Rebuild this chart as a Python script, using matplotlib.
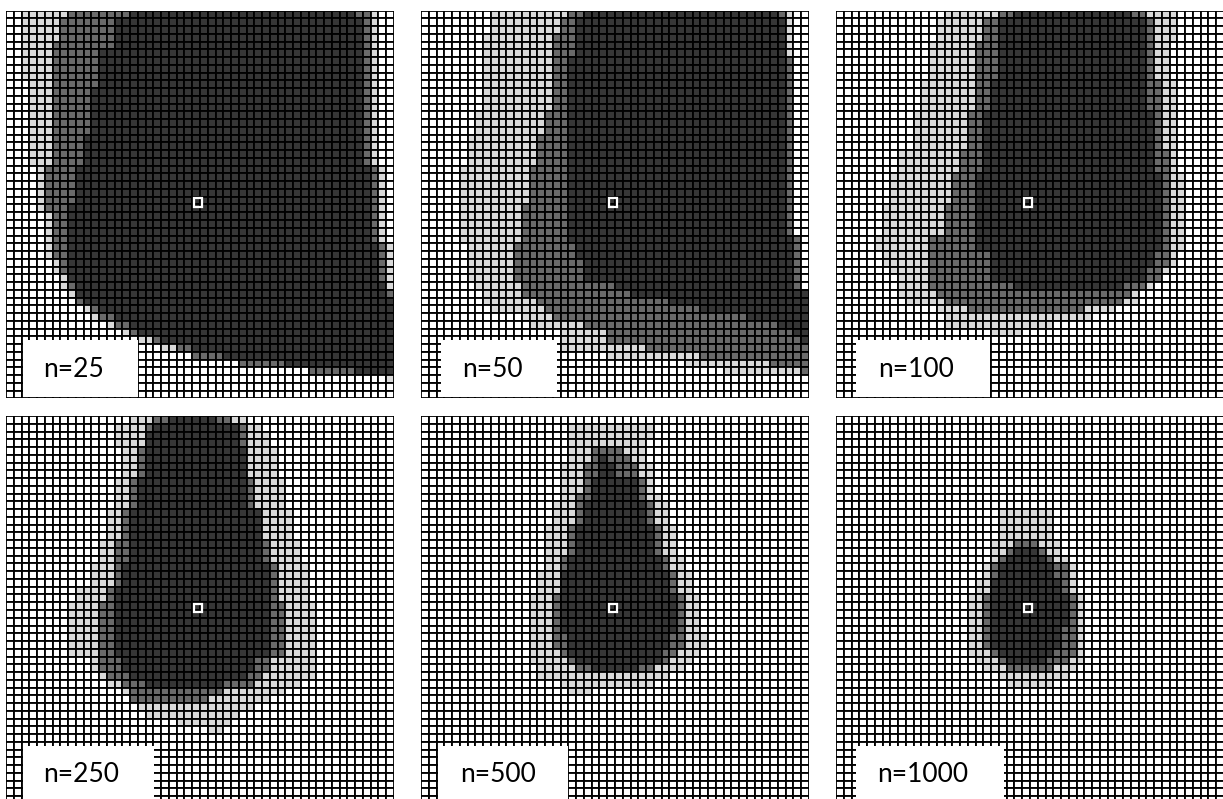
import numpy as np
import matplotlib
matplotlib.use('Agg')
import matplotlib.pyplot as plt
from matplotlib.colors import ListedColormap
from matplotlib.patches import Rectangle

# grid of 50 x 50 cells per panel
N = 50
labels = ['n=25', 'n=50', 'n=100', 'n=250', 'n=500', 'n=1000']
shades = ['#ffffff', '#d9d9d9', '#6a6a6a', '#363636']

# each level: (first row, left col, right col) runs, right col exclusive
p25_l1 = [(0, 2, 48), (9, 3, 48), (20, 4, 49), (26, 5, 49), (30, 5, 50), (32, 6, 50), (34, 7, 50),
          (36, 8, 50), (37, 9, 50), (38, 10, 50), (39, 11, 50), (40, 13, 50), (41, 15, 50), (42, 17, 50),
          (43, 20, 50), (44, 24, 50), (45, 30, 50), (46, 39, 50), (47, 49, 50), (48, 0, 0)]
p25_l2 = [(0, 8, 47), (1, 7, 47), (4, 6, 47), (20, 5, 48), (26, 6, 48), (30, 6, 49), (32, 7, 49),
          (34, 8, 49), (36, 9, 50), (38, 11, 50), (39, 12, 50), (40, 14, 50), (41, 16, 50), (42, 19, 50),
          (43, 22, 50), (44, 24, 50), (45, 30, 50), (46, 39, 50), (47, 0, 0)]
p25_l3 = [(0, 16, 45), (1, 14, 46), (5, 12, 46), (10, 11, 46), (16, 10, 46), (20, 9, 47), (25, 8, 47),
          (30, 8, 48), (35, 9, 49), (37, 10, 50), (38, 12, 50), (39, 14, 50), (40, 16, 50), (41, 17, 50),
          (42, 20, 50), (43, 24, 50), (44, 28, 50), (45, 36, 50), (46, 45, 50), (47, 0, 0)]

p50_l1 = [(0, 9, 48), (3, 8, 48), (13, 7, 48), (16, 6, 48), (20, 5, 48), (29, 5, 49), (30, 6, 49),
          (35, 7, 49), (36, 8, 50), (38, 9, 50), (39, 13, 50), (40, 14, 50), (41, 18, 50), (44, 24, 50),
          (45, 34, 50), (46, 39, 50), (47, 0, 0)]
p50_l2 = [(0, 19, 47), (1, 18, 47), (3, 17, 47), (6, 17, 48), (13, 16, 48), (16, 15, 48), (20, 14, 48),
          (25, 13, 48), (29, 13, 49), (30, 12, 49), (35, 13, 49), (36, 13, 50), (37, 15, 50), (38, 16, 50),
          (39, 17, 50), (40, 21, 50), (41, 24, 50), (43, 29, 50), (44, 36, 50), (45, 45, 50), (46, 49, 50),
          (47, 0, 0)]
p50_l3 = [(0, 21, 46), (1, 20, 47), (6, 19, 47), (29, 19, 48), (30, 20, 48), (32, 21, 48), (35, 25, 48),
          (36, 27, 50), (37, 32, 50), (38, 36, 50), (39, 42, 50), (40, 46, 50), (41, 48, 50), (42, 49, 50),
          (43, 0, 0)]

p100_l1 = [(0, 14, 44), (1, 13, 44), (4, 12, 43), (9, 11, 44), (13, 10, 44), (18, 8, 44), (21, 7, 45),
           (25, 6, 45), (29, 5, 45), (31, 6, 44), (33, 7, 43), (34, 8, 42), (35, 8, 41), (36, 8, 39),
           (37, 9, 39), (38, 13, 36), (39, 14, 33), (40, 14, 28), (41, 20, 24), (42, 0, 0)]
p100_l2 = [(0, 21, 40), (1, 19, 41), (4, 18, 41), (9, 18, 42), (13, 17, 42), (18, 16, 43), (21, 15, 43),
           (25, 14, 43), (29, 12, 43), (33, 12, 42), (35, 12, 40), (36, 13, 38), (37, 14, 37), (38, 17, 32),
           (39, 0, 0)]
p100_l3 = [(0, 23, 38), (1, 21, 40), (9, 20, 40), (13, 19, 41), (18, 19, 41), (21, 18, 42), (31, 20, 41),
           (33, 20, 40), (35, 23, 37), (36, 0, 0)]

p250_l1 = [(0, 16, 31), (1, 14, 33), (2, 14, 34), (4, 15, 35), (8, 14, 36), (12, 13, 37), (16, 12, 38),
           (19, 11, 39), (22, 9, 39), (24, 8, 40), (31, 11, 40), (33, 12, 40), (34, 13, 38), (35, 15, 36),
           (36, 16, 34), (37, 17, 32), (38, 18, 30), (39, 22, 29), (40, 26, 28), (41, 0, 0)]
p250_l2 = [(0, 19, 29), (1, 18, 31), (4, 17, 31), (8, 16, 32), (12, 15, 33), (16, 14, 34), (19, 14, 35),
           (22, 13, 35), (24, 12, 36), (31, 12, 34), (33, 13, 33), (34, 15, 32), (35, 16, 28), (36, 16, 26),
           (37, 0, 0)]
p250_l3 = [(0, 21, 27), (1, 19, 30), (2, 18, 30), (4, 18, 31), (8, 17, 31), (12, 16, 33), (19, 15, 34),
           (22, 14, 34), (31, 15, 32), (33, 16, 31), (34, 18, 28), (35, 0, 0)]

p500_l1 = [(0, 0, 0), (1, 19, 30), (3, 19, 29), (6, 18, 30), (10, 18, 31), (11, 17, 32), (14, 16, 33),
           (18, 16, 34), (20, 15, 35), (23, 14, 36), (28, 14, 37), (30, 14, 36), (31, 14, 35), (32, 15, 34),
           (33, 15, 32), (34, 18, 30), (35, 19, 22), (36, 0, 0)]
p500_l2 = [(0, 0, 0), (4, 22, 26), (5, 22, 27), (6, 21, 28), (8, 21, 29), (10, 20, 29), (11, 20, 30),
           (14, 19, 31), (18, 18, 32), (20, 18, 33), (23, 17, 34), (30, 18, 33), (31, 19, 32), (32, 20, 30),
           (33, 0, 0)]
p500_l3 = [(0, 0, 0), (5, 23, 24), (6, 23, 25), (8, 22, 28), (11, 21, 29), (14, 20, 30), (18, 19, 31),
           (20, 18, 32), (23, 18, 33), (28, 19, 32), (30, 19, 31), (31, 20, 31), (32, 22, 28), (33, 0, 0)]

p1000_l1 = [(0, 0, 0), (12, 21, 28), (16, 20, 29), (18, 20, 30), (19, 19, 31), (21, 18, 31), (23, 17, 32),
            (31, 18, 32), (32, 19, 31), (33, 21, 30), (34, 22, 28), (35, 0, 0)]
p1000_l2 = [(0, 0, 0), (16, 23, 26), (17, 22, 27), (18, 21, 28), (19, 20, 30), (23, 19, 31), (30, 20, 31),
            (31, 21, 30), (32, 22, 28), (33, 0, 0)]
p1000_l3 = [(0, 0, 0), (17, 23, 26), (18, 22, 27), (19, 21, 28), (21, 20, 29), (23, 20, 30), (27, 20, 29),
            (30, 21, 28), (31, 22, 27), (32, 0, 0)]

panels = [
    (p25_l1, p25_l2, p25_l3),
    (p50_l1, p50_l2, p50_l3),
    (p100_l1, p100_l2, p100_l3),
    (p250_l1, p250_l2, p250_l3),
    (p500_l1, p500_l2, p500_l3),
    (p1000_l1, p1000_l2, p1000_l3),
]

# label boxes: (left col, right col, text col)
boxes = [(2.2, 17.0, 4.8), (2.6, 17.5, 5.3), (2.6, 19.8, 5.4),
         (2.2, 19.1, 4.8), (2.2, 19.0, 5.0), (2.6, 21.6, 5.3)]


def make_grid(levels):
    g = np.zeros((N, N))
    for k, runs in enumerate(levels, start=1):
        for i, (r0, lo, hi) in enumerate(runs):
            r1 = runs[i + 1][0] if i + 1 < len(runs) else N
            g[r0:r1, lo:hi] = k
    return g


W, H = 1223, 799
fig = plt.figure(figsize=(W / 100, H / 100), dpi=100)
cell = 7.76
lefts = [6, 421, 836]
tops = [10.5, 416]
cmap = ListedColormap(shades)

for idx, levels in enumerate(panels):
    row, col = divmod(idx, 3)
    x0 = lefts[col]
    y0 = tops[row]
    ax = fig.add_axes([x0 / W, 1 - (y0 + N * cell) / H, N * cell / W, N * cell / H])
    g = make_grid(levels)
    ax.pcolormesh(np.arange(N + 1), np.arange(N + 1), g, cmap=cmap, vmin=-0.5, vmax=3.5,
                  edgecolors='black', linewidth=1.3, antialiased=True)
    ax.set_xlim(0, N)
    ax.set_ylim(N, 0)
    ax.axis('off')
    # centre marker
    ax.add_patch(Rectangle((24.2, 24.2), 1.1, 1.1, fill=False, edgecolor='white', linewidth=1.6, zorder=3))
    bl, br, tx = boxes[idx]
    ax.add_patch(Rectangle((bl, 42.5), br - bl, 7.3, facecolor='white', edgecolor='none', zorder=4))
    ax.text(tx, 46.2, labels[idx], fontsize=19, family='Lato', va='center', ha='left', zorder=5)

fig.savefig('out.png', dpi=100)
